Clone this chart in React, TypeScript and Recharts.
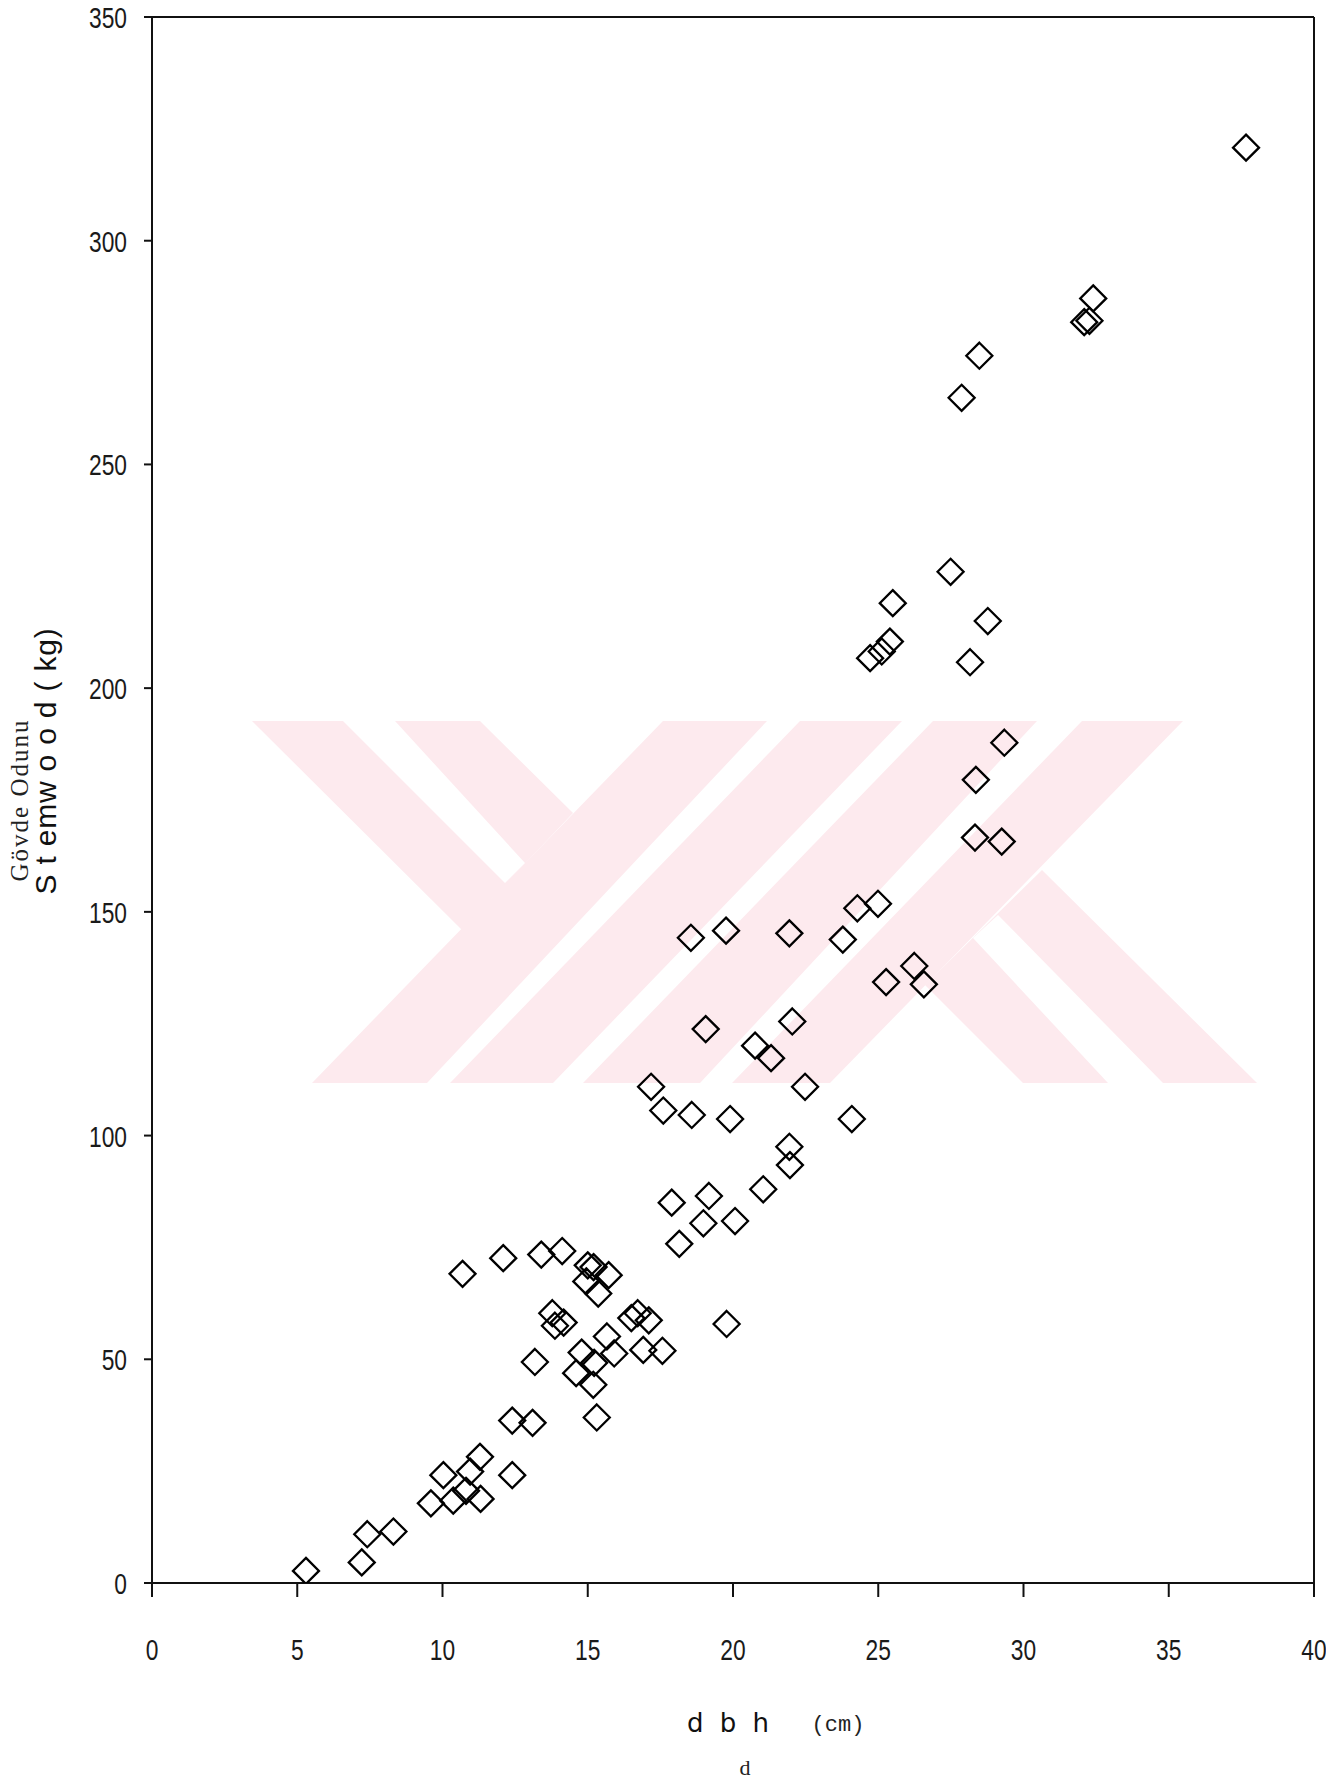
import React from 'react';
import { ScatterChart, Scatter, XAxis, YAxis, ReferenceLine } from 'recharts';

// dbh (cm)
const dbhValues = [
  5.3, 7.22, 7.41, 8.31, 9.6, 10.03, 10.37, 10.81, 10.95, 11.29, 11.31, 10.69,
  12.09, 12.4, 12.4, 13.1, 13.18, 13.4, 14.12, 13.78, 13.87, 14.17, 14.6, 14.79,
  15.0, 15.2, 14.95, 15.22, 15.19, 15.31, 15.36, 15.72, 15.66, 15.91, 16.5, 16.72,
  16.91, 17.1, 17.57, 17.18, 17.6, 17.89, 18.15, 18.58, 18.55, 18.98, 19.06, 19.17,
  19.76, 19.78, 19.9, 20.07, 20.76, 21.31, 21.04, 21.94, 22.04, 21.94, 21.96, 22.48,
  23.78, 24.09, 24.28, 24.99, 25.27, 26.24, 26.57, 24.72, 25.12, 25.4, 25.5, 27.49,
  28.16, 28.77, 27.87, 28.48, 28.36, 28.33, 29.34, 29.25, 32.09, 32.27, 32.4, 37.66,
];

// Stemwood (kg)
const stemwoodValues = [
  2.7, 4.6, 10.9, 11.5, 17.8, 24.1, 18.4, 20.6, 24.9, 28.2, 18.8, 69.1,
  72.6, 36.3, 24.1, 35.8, 49.4, 73.4, 74.2, 60.3, 57.5, 58.2, 46.9, 51.5,
  71.0, 70.6, 67.4, 49.2, 44.3, 37.0, 64.7, 68.8, 55.1, 51.3, 59.2, 60.3,
  52.1, 58.7, 51.9, 110.9, 105.6, 85.0, 75.8, 104.6, 144.2, 80.4, 123.8, 86.5,
  145.8, 57.9, 103.7, 80.9, 120.1, 117.3, 88.0, 145.2, 125.5, 97.5, 93.4, 110.9,
  143.8, 103.7, 150.8, 151.8, 134.3, 137.9, 133.8, 206.7, 208.2, 210.4, 219.0, 226.0,
  205.8, 215.0, 264.9, 274.3, 179.5, 166.6, 187.8, 165.7, 281.8, 282.1, 287.1, 320.8,
];

const xTicks = [0, 5, 10, 15, 20, 25, 30, 35, 40];
const yTicks = [0, 50, 100, 150, 200, 250, 300, 350];

const data = dbhValues.map((x, i) => ({ x, y: stemwoodValues[i] }));

const INK = '#111';
const TICK_FONT = "'Liberation Sans', Arial, sans-serif";

const XTick = (props: any) => {
  const { x, y, payload } = props;
  return (
    <g transform={`translate(${x},${y})`}>
      <text
        x={0}
        y={0}
        dy={63}
        textAnchor="middle"
        transform="scale(0.76,1)"
        fontFamily={TICK_FONT}
        fontSize={30}
        fill="#1a1a1a"
      >
        {payload.value}
      </text>
    </g>
  );
};

const YTick = (props: any) => {
  const { x, y, payload } = props;
  return (
    <g transform={`translate(${x},${y})`}>
      <text
        x={0}
        y={0}
        dy={11}
        textAnchor="end"
        transform="scale(0.76,1)"
        fontFamily={TICK_FONT}
        fontSize={30}
        fill="#1a1a1a"
      >
        {payload.value}
      </text>
    </g>
  );
};

const Diamond = (props: any) => {
  const { cx, cy } = props;
  if (cx == null || cy == null) return null;
  const h = 13;
  return (
    <polygon
      points={`${cx},${cy - h} ${cx + h},${cy} ${cx},${cy + h} ${cx - h},${cy}`}
      fill="none"
      stroke="#000"
      strokeWidth={2.3}
      strokeLinejoin="miter"
    />
  );
};

const W = 1334;
const H = 1783;
const PINK = '#fdeaee';

const Watermark = () => (
  <svg width={W} height={H} style={{ position: 'absolute', left: 0, top: 0 }}>
    <polygon points="252,721 480,721 573,813 462,930" fill={PINK} />
    <polygon points="663,721 1183,721 830,1083 312,1083" fill={PINK} />
    <polygon points="925,985 1042,870 1257,1083 1023,1083" fill={PINK} />
    <polygon points="343,721 395,721 525,863 505,883" fill="#fff" />
    <polygon points="767,721 800,721 450,1083 427,1083" fill="#fff" />
    <polygon points="902,721 933,721 583,1083 553,1083" fill="#fff" />
    <polygon points="1037,721 1082,721 732,1083 700,1083" fill="#fff" />
    <polygon points="998,915 1163,1083 1108,1083 973,938" fill="#fff" />
  </svg>
);

const Titles = () => (
  <svg
    width={W}
    height={H}
    style={{ position: 'absolute', left: 0, top: 0, pointerEvents: 'none' }}
  >
    <text
      transform="translate(28,800) rotate(-90)"
      textAnchor="middle"
      fontFamily="'Liberation Serif', 'Times New Roman', serif"
      fontSize={25}
      letterSpacing={2}
      fill="#222"
    >
      Gövde Odunu
    </text>
    <text
      transform="translate(56,761) rotate(-90)"
      textAnchor="middle"
      fontFamily="'Liberation Sans', Arial, sans-serif"
      fontSize={30}
      letterSpacing={0.8}
      fill="#111"
    >
      S t emw o o d ( kg)
    </text>
    <text
      x={730}
      y={1732}
      textAnchor="middle"
      fontFamily="'DejaVu Sans', sans-serif"
      fontSize={26}
      letterSpacing={4}
      fill="#111"
    >
      d b h
    </text>
    <text
      x={838}
      y={1731}
      textAnchor="middle"
      fontFamily="'Liberation Mono', 'DejaVu Sans Mono', monospace"
      fontSize={22}
      fill="#222"
    >
      (cm)
    </text>
    <text
      x={745}
      y={1775}
      textAnchor="middle"
      fontFamily="'Liberation Serif', 'Times New Roman', serif"
      fontSize={22}
      fill="#222"
    >
      d
    </text>
  </svg>
);

export default function App() {
  return (
    <div
      style={{
        position: 'relative',
        width: W,
        height: H,
        marginTop: -8,
        marginLeft: -8,
      }}
    >
      <Watermark />
      <div style={{ position: 'absolute', left: 0, top: 0 }}>
        <ScatterChart
          width={W}
          height={H}
          margin={{ top: 17, right: 20, bottom: 100, left: 0 }}
        >
          <XAxis
            type="number"
            dataKey="x"
            domain={[0, 40]}
            ticks={xTicks}
            interval={0}
            allowDataOverflow
            height={100}
            tickSize={14}
            tickMargin={0}
            axisLine={{ stroke: INK, strokeWidth: 2 }}
            tickLine={{ stroke: INK, strokeWidth: 2 }}
            tick={<XTick />}
          />
          <YAxis
            type="number"
            dataKey="y"
            domain={[0, 350]}
            ticks={yTicks}
            interval={0}
            allowDataOverflow
            width={152}
            tickSize={8}
            tickMargin={17}
            axisLine={{ stroke: INK, strokeWidth: 2 }}
            tickLine={{ stroke: INK, strokeWidth: 2 }}
            tick={<YTick />}
          />
          <ReferenceLine y={350} stroke={INK} strokeWidth={2} />
          <ReferenceLine x={40} stroke={INK} strokeWidth={2} />
          <Scatter
            data={data}
            shape={<Diamond />}
            isAnimationActive={false}
          />
        </ScatterChart>
      </div>
      <Titles />
    </div>
  );
}
